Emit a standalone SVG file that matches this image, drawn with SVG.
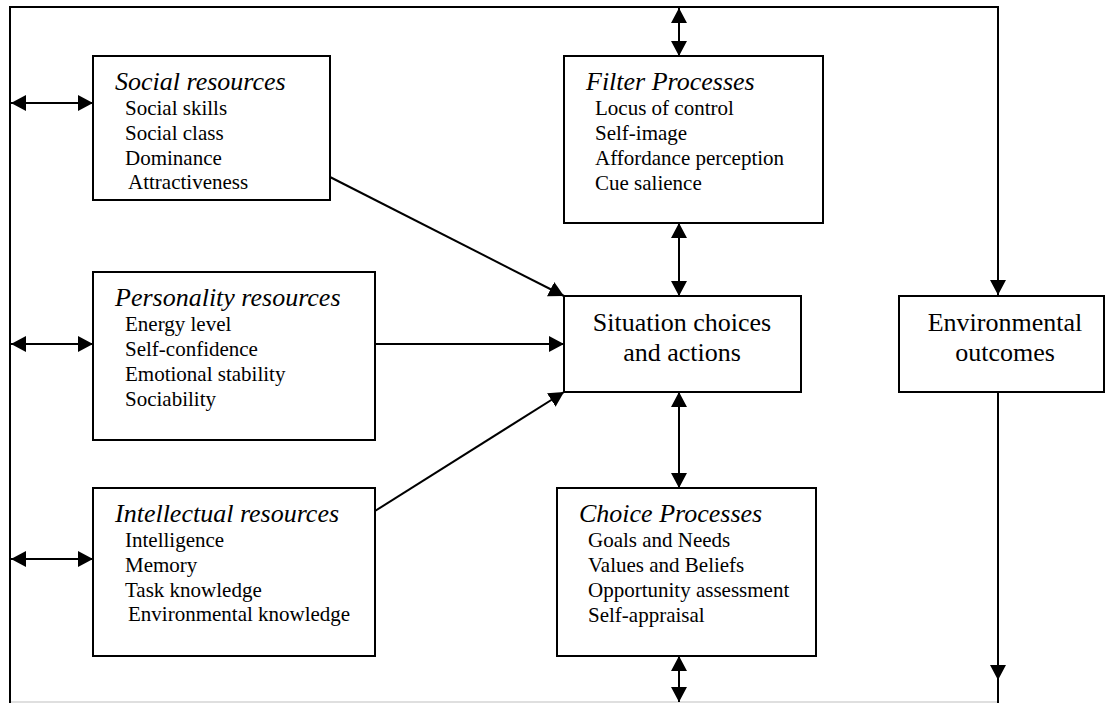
<svg xmlns="http://www.w3.org/2000/svg" width="1106" height="703" viewBox="0 0 1106 703">
  <style>
    .box { fill: #ffffff; stroke: #000000; stroke-width: 2; }
    .ln { fill: none; stroke: #000000; stroke-width: 2; }
    text { font-family: 'Liberation Serif', 'Times New Roman', Tinos, 'DejaVu Serif', serif; fill: #000; }
    .title { font-size: 26px; font-style: italic; }
    .item { font-size: 21px; }
    .big { font-size: 26px; text-anchor: middle; }
  </style>
  <defs>
    <marker id="arr" viewBox="0 0 15 16" refX="15" refY="8" markerWidth="15" markerHeight="16" markerUnits="userSpaceOnUse" orient="auto-start-reverse">
      <path d="M0,0 L15,8 L0,16 z" fill="#000"/>
    </marker>
  </defs>
  <rect x="0" y="0" width="1106" height="703" fill="#ffffff"/>

  <g id="connectors">
    <line x1="10" y1="702" x2="998" y2="702" stroke="#d4d4d4" stroke-width="1.5"/>
    <path class="ln" d="M10,703 L10,7 L998,7 L998,295" marker-end="url(#arr)"/>
    <line class="ln" x1="998" y1="392" x2="998" y2="680" marker-end="url(#arr)"/>
    <line class="ln" x1="998" y1="680" x2="998" y2="703"/>
    <line class="ln" x1="11" y1="103" x2="93" y2="103" marker-start="url(#arr)" marker-end="url(#arr)"/>
    <line class="ln" x1="11" y1="344" x2="93" y2="344" marker-start="url(#arr)" marker-end="url(#arr)"/>
    <line class="ln" x1="11" y1="559" x2="93" y2="559" marker-start="url(#arr)" marker-end="url(#arr)"/>
    <line class="ln" x1="679" y1="8" x2="679" y2="56" marker-start="url(#arr)" marker-end="url(#arr)"/>
    <line class="ln" x1="679" y1="223" x2="679" y2="296" marker-start="url(#arr)" marker-end="url(#arr)"/>
    <line class="ln" x1="679" y1="392" x2="679" y2="488" marker-start="url(#arr)" marker-end="url(#arr)"/>
    <line class="ln" x1="679" y1="656" x2="679" y2="702" marker-start="url(#arr)" marker-end="url(#arr)"/>
    <line class="ln" x1="330" y1="177" x2="564" y2="296" marker-end="url(#arr)"/>
    <line class="ln" x1="375" y1="344" x2="564" y2="344" marker-end="url(#arr)"/>
    <line class="ln" x1="375" y1="511" x2="564" y2="392" marker-end="url(#arr)"/>
  </g>

  <g id="social">
    <rect class="box" x="93" y="56" width="237" height="144"/>
    <text class="title" x="115" y="90">Social resources</text>
    <text class="item" x="125" y="115">Social skills</text>
    <text class="item" x="125" y="140">Social class</text>
    <text class="item" x="125" y="165">Dominance</text>
    <text class="item" x="128" y="189">Attractiveness</text>
  </g>

  <g id="personality">
    <rect class="box" x="93" y="272" width="282" height="168"/>
    <text class="title" x="115" y="306">Personality resources</text>
    <text class="item" x="125" y="331">Energy level</text>
    <text class="item" x="125" y="356">Self-confidence</text>
    <text class="item" x="125" y="381">Emotional stability</text>
    <text class="item" x="125" y="406">Sociability</text>
  </g>

  <g id="intellectual">
    <rect class="box" x="93" y="488" width="282" height="168"/>
    <text class="title" x="115" y="522">Intellectual resources</text>
    <text class="item" x="125" y="547">Intelligence</text>
    <text class="item" x="125" y="572">Memory</text>
    <text class="item" x="125" y="597">Task knowledge</text>
    <text class="item" x="128" y="621">Environmental knowledge</text>
  </g>

  <g id="filter">
    <rect class="box" x="564" y="56" width="259" height="167"/>
    <text class="title" x="586" y="90">Filter Processes</text>
    <text class="item" x="595" y="115">Locus of control</text>
    <text class="item" x="595" y="140">Self-image</text>
    <text class="item" x="595" y="165">Affordance perception</text>
    <text class="item" x="595" y="190">Cue salience</text>
  </g>

  <g id="situation">
    <rect class="box" x="564" y="296" width="237" height="96"/>
    <text class="big" x="682" y="331">Situation choices</text>
    <text class="big" x="682" y="361">and actions</text>
  </g>

  <g id="choice">
    <rect class="box" x="557" y="488" width="259" height="168"/>
    <text class="title" x="579" y="522">Choice Processes</text>
    <text class="item" x="588" y="547">Goals and Needs</text>
    <text class="item" x="588" y="572">Values and Beliefs</text>
    <text class="item" x="588" y="597">Opportunity assessment</text>
    <text class="item" x="588" y="622">Self-appraisal</text>
  </g>

  <g id="environmental">
    <rect class="box" x="899" y="296" width="205" height="96"/>
    <text class="big" x="1005" y="331">Environmental</text>
    <text class="big" x="1005" y="361">outcomes</text>
  </g>
</svg>
